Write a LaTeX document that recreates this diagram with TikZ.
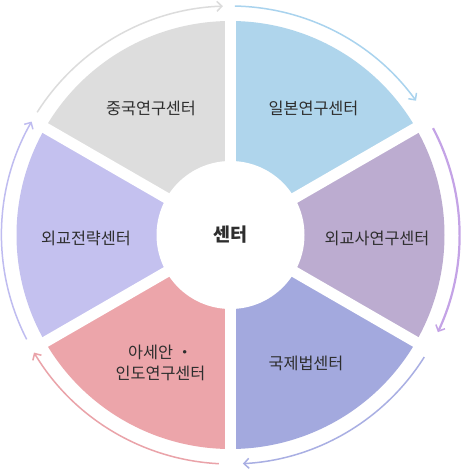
\documentclass[tikz,border=0pt]{standalone}
\usepackage{fontspec}
\newfontfamily\kr{Noto Sans CJK KR}
\usetikzlibrary{arrows.meta}
\definecolor{sgray}{HTML}{DDDDDD}
\definecolor{sblue}{HTML}{AFD5EC}
\definecolor{spurple}{HTML}{BCACD0}
\definecolor{sbv}{HTML}{A3A9DE}
\definecolor{spink}{HTML}{ECA5AA}
\definecolor{slav}{HTML}{C4C1EF}
\definecolor{agray}{HTML}{DCDCDC}
\definecolor{ablue}{HTML}{A9D3EE}
\definecolor{apurple}{HTML}{C4A3E6}
\definecolor{abv}{HTML}{A9AFE3}
\definecolor{apink}{HTML}{EAA3A9}
\definecolor{alav}{HTML}{BFBCF0}
\definecolor{txt}{HTML}{2E2E2E}
\tikzset{
  flowarc/.style={line width=1.5pt, -{Straight Barb[length=5pt,width=10pt,line width=1.5pt]}},
  label/.style={font=\kr\fontsize{16.3}{21}\selectfont, text=txt, align=center, inner sep=0pt},
}
\begin{document}
\begin{tikzpicture}[x=1pt,y=1pt]
\useasboundingbox (0,0) rectangle (461,469);
\fill[white] (0,0) rectangle (461,469);
\coordinate (c) at (230.5,234);
% sectors
\foreach \a/\col in {30/sblue, -30/spurple, -90/sbv, -150/spink, 150/slav, 90/sgray}
  \fill[\col] (c) -- ++(\a:214pt) arc[start angle=\a, delta angle=60, radius=214pt] -- cycle;
% white gaps
\foreach \a in {90,30,-30,-90,-150,150}
  \draw[white, line width=11pt] (c) -- ++(\a:220pt);
% center
\node[circle, fill=white, minimum size=148pt, inner sep=0pt, text=txt, font=\kr\bfseries\fontsize{18.5}{22}\selectfont] (center) at (c) {센터};
% outer arrows
\draw[ablue, flowarc] (c) ++(88.9:229pt) arc[start angle=88.9, end angle=35.9, radius=229pt];
\draw[apurple, flowarc, line width=2.2pt] (c) ++(27.8:229pt) arc[start angle=27.8, end angle=-25.1, radius=229pt];
\draw[abv, flowarc] (c) ++(-32.2:229pt) arc[start angle=-32.2, end angle=-86.9, radius=229pt];
\draw[apink, flowarc] (c) ++(-92.9:229pt) arc[start angle=-92.9, end angle=-149.1, radius=229pt];
\draw[alav, flowarc] (c) ++(-152.9:229pt) arc[start angle=-152.9, end angle=-209.7, radius=229pt];
\draw[agray, flowarc] (c) ++(147.6:229pt) arc[start angle=147.6, end angle=91.9, radius=229pt];
% labels
\node[label] (china) at (151,361) {중국연구센터};
\node[label] (japan) at (313.5,361) {일본연구센터};
\node[label] (dipl) at (377,231) {외교사연구센터};
\node[label] (intl) at (306,106) {국제법센터};
\node[label] (asean) at (160.5,106.5) {아세안 ・\\[0pt]인도연구센터};
\node[label] (strat) at (86,231) {외교전략센터};
\end{tikzpicture}
\end{document}
